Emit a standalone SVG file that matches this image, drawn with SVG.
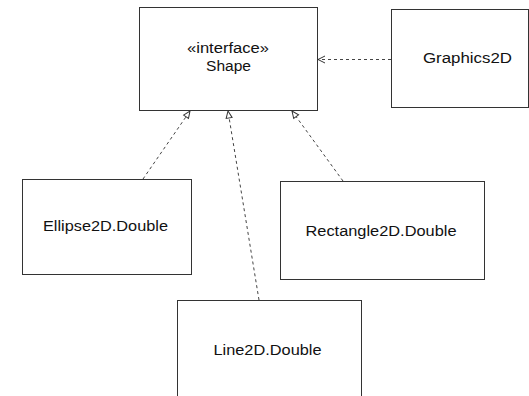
<svg xmlns="http://www.w3.org/2000/svg" width="529" height="396" viewBox="0 0 529 396">
<style>
.box{fill:#fff;stroke:#333;stroke-width:1}
.lbl{font-family:"Liberation Sans",Arial,sans-serif;font-size:15.5px;fill:#111}
.dep{fill:none;stroke:#444;stroke-width:1;stroke-dasharray:3,3}
</style>
<defs>
<marker id="tri" markerWidth="10" markerHeight="10" refX="8" refY="4" orient="auto" markerUnits="userSpaceOnUse">
<path d="M1,1 L8,4 L1,7 z" fill="#fff" stroke="#333" stroke-width="1"/>
</marker>
<marker id="open" markerWidth="10" markerHeight="10" refX="8" refY="4" orient="auto" markerUnits="userSpaceOnUse">
<path d="M1,0.5 L8,4 L1,7.5" fill="none" stroke="#333" stroke-width="1"/>
</marker>
</defs>
<rect width="529" height="396" fill="#fff"/>
<g id="connectors">
<line class="dep" x1="391" y1="59.5" x2="318" y2="59.5" marker-end="url(#open)"/>
<line class="dep" x1="143" y1="179" x2="190" y2="111" marker-end="url(#tri)"/>
<line class="dep" x1="259" y1="300" x2="228" y2="111" marker-end="url(#tri)"/>
<line class="dep" x1="343" y1="181" x2="292" y2="111" marker-end="url(#tri)"/>
</g>
<g id="shape">
<rect class="box" x="139.5" y="7.5" width="178" height="103"/>
<text class="lbl" x="187" y="52.5" textLength="82" lengthAdjust="spacingAndGlyphs">«interface»</text>
<text class="lbl" x="206" y="70.5" textLength="45" lengthAdjust="spacingAndGlyphs">Shape</text>
</g>
<g id="graphics2d">
<rect class="box" x="391.5" y="9.5" width="137" height="98"/>
<text class="lbl" x="423" y="63" textLength="89" lengthAdjust="spacingAndGlyphs">Graphics2D</text>
</g>
<g id="ellipse">
<rect class="box" x="22.5" y="179.5" width="169" height="95"/>
<text class="lbl" x="43" y="230.5" textLength="125" lengthAdjust="spacingAndGlyphs">Ellipse2D.Double</text>
</g>
<g id="rectangle">
<rect class="box" x="280.5" y="181.5" width="204" height="98"/>
<text class="lbl" x="305.5" y="236" textLength="151" lengthAdjust="spacingAndGlyphs">Rectangle2D.Double</text>
</g>
<g id="line2d">
<rect class="box" x="177.5" y="300.5" width="184" height="110"/>
<text class="lbl" x="213.5" y="354.5" textLength="108" lengthAdjust="spacingAndGlyphs">Line2D.Double</text>
</g>
</svg>
